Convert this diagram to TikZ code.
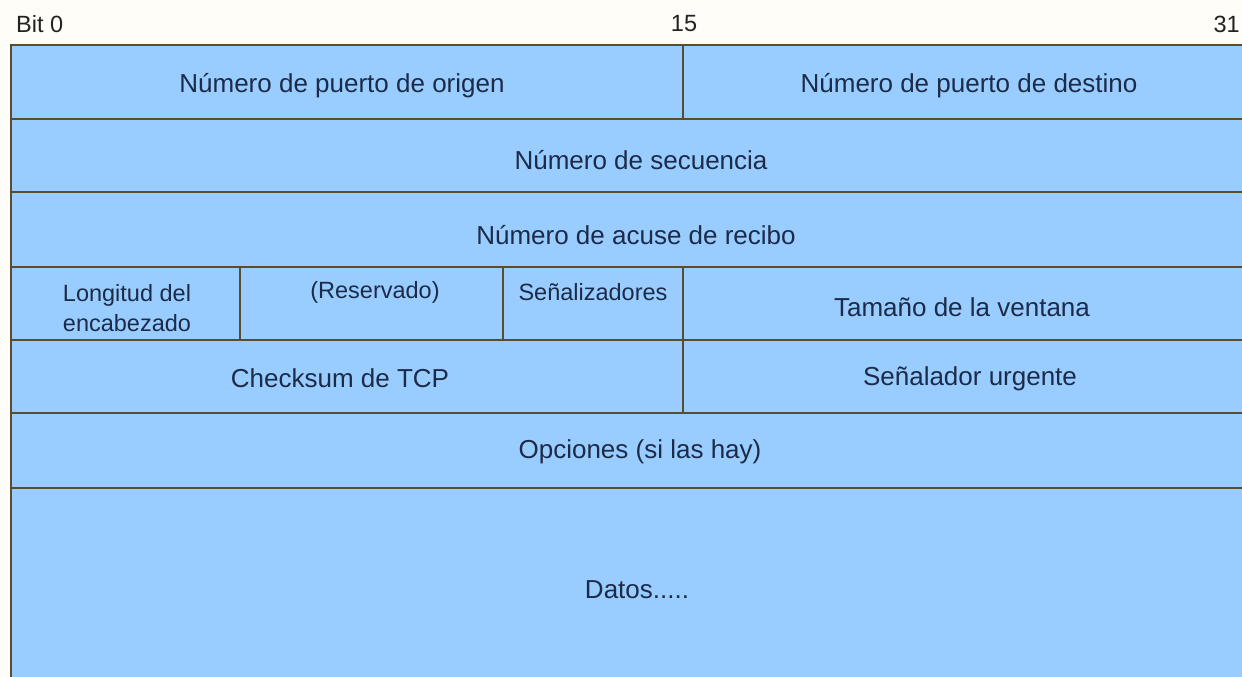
\documentclass[tikz,border=0pt]{standalone}
\usepackage{fontspec}
\setmainfont{Liberation Sans}
\definecolor{cellc}{HTML}{99CCFF}
\definecolor{linec}{HTML}{5A4C2E}
\definecolor{txtc}{HTML}{1C2B48}
\definecolor{bgc}{HTML}{FFFDF8}
\definecolor{topc}{HTML}{222222}
\begin{document}
\begin{tikzpicture}[x=1pt,y=-1pt,
  cell/.style={draw=linec, fill=cellc, line width=2.8pt, anchor=north west, inner sep=0pt, outer sep=0pt},
  lab/.style={text=txtc, font=\fontsize{26}{30}\selectfont, inner sep=0pt},
  small/.style={text=txtc, font=\fontsize{23.5}{30}\selectfont, inner sep=0pt, align=center},
  bit/.style={text=topc, font=\fontsize{23.5}{28}\selectfont, inner sep=0pt}]
\useasboundingbox (0,0) rectangle (1242,677);
\fill[bgc] (0,0) rectangle (1242,677);
\clip (0,0) rectangle (1242,677);
% bit labels
\node[bit, anchor=west] (b0) at (16,24) {Bit 0};
\node[bit] (b15) at (684,24) {15};
\node[bit, anchor=east] (b31) at (1240,24) {31};
% row 1
\node[cell, minimum width=672pt, minimum height=74pt] (c1a) at (11,45) {};
\node[cell, minimum width=572pt, minimum height=74pt] (c1b) at (683,45) {};
% row 2
\node[cell, minimum width=1244pt, minimum height=73pt] (c2) at (11,119) {};
% row 3
\node[cell, minimum width=1244pt, minimum height=75pt] (c3) at (11,192) {};
% row 4
\node[cell, minimum width=229pt, minimum height=73pt] (c4a) at (11,267) {};
\node[cell, minimum width=263pt, minimum height=73pt] (c4b) at (240,267) {};
\node[cell, minimum width=180pt, minimum height=73pt] (c4c) at (503,267) {};
\node[cell, minimum width=572pt, minimum height=73pt] (c4d) at (683,267) {};
% row 5
\node[cell, minimum width=672pt, minimum height=73pt] (c5a) at (11,340) {};
\node[cell, minimum width=572pt, minimum height=73pt] (c5b) at (683,340) {};
% row 6
\node[cell, minimum width=1244pt, minimum height=75pt] (c6) at (11,413) {};
% row 7
\node[cell, minimum width=1244pt, minimum height=230pt] (c7) at (11,488) {};
% texts
\node[lab] (t1a) at (342,86) {Número de puerto de origen};
\node[lab] (t1b) at (969,86) {Número de puerto de destino};
\node[lab] (t2) at (641,160) {Número de secuencia};
\node[lab] (t3) at (636,235) {Número de acuse de recibo};
\node[small] (t4a) at (127,308) {Longitud del\\encabezado};
\node[small] (t4b) at (375,292) {(Reservado)};
\node[small] (t4c) at (593,292) {Señalizadores};
\node[lab] (t4d) at (962,307) {Tamaño de la ventana};
\node[lab] (t5a) at (340,378) {Checksum de TCP};
\node[lab] (t5b) at (970,379) {Señalador urgente};
\node[lab] (t6) at (640,452) {Opciones (si las hay)};
\node[lab] (t7) at (637,590) {Datos.....};
\end{tikzpicture}
\end{document}
